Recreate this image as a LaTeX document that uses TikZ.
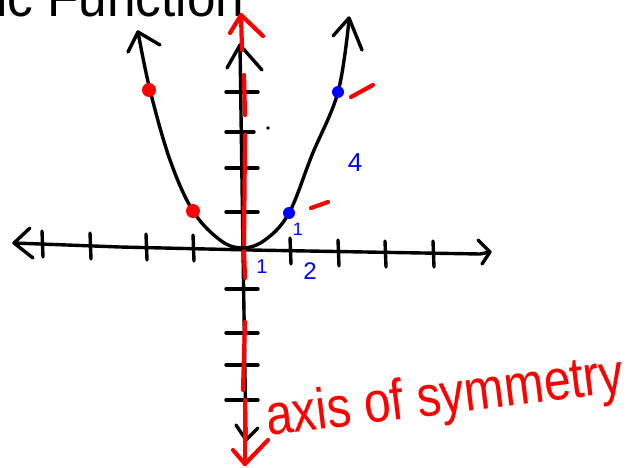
\documentclass[tikz,border=0pt]{standalone}
\usepackage{fontspec}
\setmainfont{Liberation Sans}
\begin{document}
\begin{tikzpicture}[x=1pt,y=-1pt,
  ink/.style={line width=3.4pt,line cap=round,line join=round},
  redink/.style={ink,red,line width=4.2pt},
  blueink/.style={blue},
  dot/.style={circle,inner sep=0pt,minimum size=14pt}]
\useasboundingbox (0,0) rectangle (627,468);
\clip (0,0) rectangle (627,468);
% title (cut off)
\node[anchor=base west,inner sep=0pt,font=\fontsize{54}{54}\selectfont,xscale=0.95] (title) at (-4,17) {ic Function};
% x-axis
\coordinate (xl) at (14,243);
\coordinate (xr) at (490,252);
\draw[ink] (xl) -- (120,247) -- (250,250) -- (480,254) -- (xr);
\draw[ink] (30,228) -- (xl) -- (33,258);
\draw[ink] (478,240) -- (xr) -- (482,264);
\foreach \x/\y in {42/244,90/246,146/247,193/248,290/251,338/253,385/254,433/254}
  \draw[ink] (\x,\y-13) -- (\x+1,\y+13);
% y-axis
\coordinate (yt) at (240,45);
\coordinate (yb) at (246,440);
\draw[ink] (yt) -- (243,250) -- (yb);
\draw[ink] (227,68) -- (yt) -- (262,70);
\draw[ink] (236,425) -- (yb) -- (258,428);
\foreach \y in {92,168,212,289,333,365,400}
  \draw[ink] (226,\y) -- (258,\y);
\draw[ink] (226,132) -- (254,132);
\fill (268,128) circle (1.8pt);
% red axis of symmetry
\coordinate (rt) at (241,15);
\coordinate (rb) at (245,464);
\draw[redink] (rt) -- (242,50);
\draw[redink] (230,33) -- (rt) -- (263,36);
\draw[redink] (244,75) -- (245,115);
\draw[redink] (245,135) -- (244,245);
\draw[redink] (244,250) -- (245,278);
\draw[redink] (245,322) -- (243,390);
\draw[redink] (233,450) -- (rb) -- (268,440);
\draw[redink] (245,400) -- (rb);
% parabola
\draw[ink] plot[smooth,tension=0.6] coordinates {(138,32) (150,90) (170,160) (193,211) (220,240) (242,248) (265,240) (289,213) (312,155) (338,92) (349,20)};
\draw[ink] (128,52) -- (138,32) -- (160,45);
\draw[ink] (333,36) -- (349,18) -- (362,50);
% points
\node[dot,fill=red] (p1) at (149,90) {};
\node[dot,fill=red] (p2) at (193,211) {};
\node[dot,fill=blue,minimum size=12pt] (p3) at (289,213) {};
\node[dot,fill=blue,minimum size=12pt] (p4) at (338,92) {};
\draw[redink] (351,97) -- (373,85);
\draw[redink] (311,208) -- (328,202);
% blue labels
\node[blueink,font=\fontsize{26}{26}\selectfont] (l4) at (355,163) {4};
\node[blueink,font=\fontsize{18}{18}\selectfont] (l1a) at (298,229) {1};
\node[blueink,font=\fontsize{20}{20}\selectfont] (l1b) at (262,267) {1};
\node[blueink,font=\fontsize{24}{24}\selectfont] (l2) at (310,271) {2};
% red text
\node[red,anchor=base west,inner sep=0pt,rotate=7,font=\fontsize{48}{48}\selectfont,yscale=1.2] (axs) at (268,436) {axis of symmetry};
\end{tikzpicture}
\end{document}
